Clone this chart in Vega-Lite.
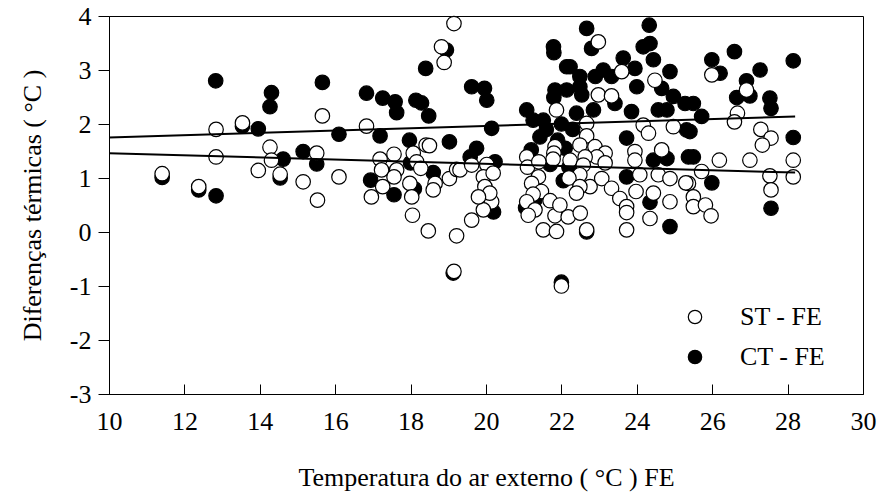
{
  "$schema": "https://vega.github.io/schema/vega-lite/v6.json",
  "width": 754,
  "height": 378,
  "autosize": {"type": "none"},
  "padding": {"left": 109, "top": 16, "right": 15, "bottom": 101},
  "background": "white",
  "config": {
    "view": {"stroke": "black", "strokeWidth": 1},
    "font": "Liberation Serif, Times New Roman, serif",
    "text": {"font": "Liberation Serif, Times New Roman, serif"},
    "axis": {
      "grid": false,
      "domainColor": "black",
      "tickColor": "black",
      "labelColor": "black",
      "titleColor": "black",
      "labelFont": "Liberation Serif, Times New Roman, serif",
      "titleFont": "Liberation Serif, Times New Roman, serif",
      "labelFontSize": 26,
      "titleFontSize": 26,
      "titleFontWeight": "normal"
    },
    "legend": {
      "labelFont": "Liberation Serif, Times New Roman, serif"
    }
  },
  "layer": [
    {
      "data": {
        "values": [
          {"t": 11.41, "d": 1.01, "serie": "CT - FE"},
          {"t": 12.38, "d": 0.78, "serie": "CT - FE"},
          {"t": 12.83, "d": 2.80, "serie": "CT - FE"},
          {"t": 12.84, "d": 0.67, "serie": "CT - FE"},
          {"t": 13.54, "d": 1.96, "serie": "CT - FE"},
          {"t": 13.96, "d": 1.91, "serie": "CT - FE"},
          {"t": 14.31, "d": 2.58, "serie": "CT - FE"},
          {"t": 14.27, "d": 2.32, "serie": "CT - FE"},
          {"t": 14.62, "d": 1.35, "serie": "CT - FE"},
          {"t": 14.54, "d": 1.00, "serie": "CT - FE"},
          {"t": 15.15, "d": 1.49, "serie": "CT - FE"},
          {"t": 15.66, "d": 2.77, "serie": "CT - FE"},
          {"t": 15.51, "d": 1.26, "serie": "CT - FE"},
          {"t": 16.10, "d": 1.81, "serie": "CT - FE"},
          {"t": 16.83, "d": 2.57, "serie": "CT - FE"},
          {"t": 17.26, "d": 2.48, "serie": "CT - FE"},
          {"t": 17.59, "d": 2.41, "serie": "CT - FE"},
          {"t": 17.63, "d": 2.21, "serie": "CT - FE"},
          {"t": 18.14, "d": 2.44, "serie": "CT - FE"},
          {"t": 18.29, "d": 2.39, "serie": "CT - FE"},
          {"t": 18.48, "d": 2.15, "serie": "CT - FE"},
          {"t": 18.40, "d": 3.03, "serie": "CT - FE"},
          {"t": 18.95, "d": 3.37, "serie": "CT - FE"},
          {"t": 17.19, "d": 1.78, "serie": "CT - FE"},
          {"t": 17.97, "d": 1.70, "serie": "CT - FE"},
          {"t": 19.03, "d": 1.67, "serie": "CT - FE"},
          {"t": 18.00, "d": 1.28, "serie": "CT - FE"},
          {"t": 16.94, "d": 0.96, "serie": "CT - FE"},
          {"t": 17.56, "d": 0.69, "serie": "CT - FE"},
          {"t": 18.10, "d": 0.80, "serie": "CT - FE"},
          {"t": 18.60, "d": 1.10, "serie": "CT - FE"},
          {"t": 19.13, "d": -0.76, "serie": "CT - FE"},
          {"t": 19.62, "d": 2.69, "serie": "CT - FE"},
          {"t": 19.96, "d": 2.66, "serie": "CT - FE"},
          {"t": 20.02, "d": 2.44, "serie": "CT - FE"},
          {"t": 20.15, "d": 1.92, "serie": "CT - FE"},
          {"t": 19.75, "d": 1.55, "serie": "CT - FE"},
          {"t": 19.58, "d": 1.39, "serie": "CT - FE"},
          {"t": 20.24, "d": 1.30, "serie": "CT - FE"},
          {"t": 20.20, "d": 0.37, "serie": "CT - FE"},
          {"t": 21.79, "d": 3.43, "serie": "CT - FE"},
          {"t": 21.80, "d": 3.32, "serie": "CT - FE"},
          {"t": 22.14, "d": 3.06, "serie": "CT - FE"},
          {"t": 21.83, "d": 2.63, "serie": "CT - FE"},
          {"t": 21.80, "d": 2.49, "serie": "CT - FE"},
          {"t": 21.08, "d": 2.26, "serie": "CT - FE"},
          {"t": 21.25, "d": 2.07, "serie": "CT - FE"},
          {"t": 21.52, "d": 2.07, "serie": "CT - FE"},
          {"t": 21.43, "d": 1.76, "serie": "CT - FE"},
          {"t": 21.20, "d": 1.52, "serie": "CT - FE"},
          {"t": 21.60, "d": 1.90, "serie": "CT - FE"},
          {"t": 21.90, "d": 1.70, "serie": "CT - FE"},
          {"t": 22.00, "d": 2.00, "serie": "CT - FE"},
          {"t": 22.10, "d": 1.55, "serie": "CT - FE"},
          {"t": 21.70, "d": 1.25, "serie": "CT - FE"},
          {"t": 22.20, "d": 1.20, "serie": "CT - FE"},
          {"t": 22.30, "d": 1.90, "serie": "CT - FE"},
          {"t": 22.40, "d": 2.20, "serie": "CT - FE"},
          {"t": 22.05, "d": 0.95, "serie": "CT - FE"},
          {"t": 21.30, "d": 0.60, "serie": "CT - FE"},
          {"t": 21.05, "d": 0.45, "serie": "CT - FE"},
          {"t": 22.00, "d": -0.93, "serie": "CT - FE"},
          {"t": 22.67, "d": 3.77, "serie": "CT - FE"},
          {"t": 24.33, "d": 3.83, "serie": "CT - FE"},
          {"t": 24.17, "d": 3.43, "serie": "CT - FE"},
          {"t": 24.35, "d": 3.49, "serie": "CT - FE"},
          {"t": 22.80, "d": 3.40, "serie": "CT - FE"},
          {"t": 22.23, "d": 3.06, "serie": "CT - FE"},
          {"t": 23.64, "d": 3.22, "serie": "CT - FE"},
          {"t": 23.11, "d": 3.00, "serie": "CT - FE"},
          {"t": 24.44, "d": 3.19, "serie": "CT - FE"},
          {"t": 24.88, "d": 2.97, "serie": "CT - FE"},
          {"t": 22.49, "d": 2.88, "serie": "CT - FE"},
          {"t": 22.90, "d": 2.88, "serie": "CT - FE"},
          {"t": 23.33, "d": 2.88, "serie": "CT - FE"},
          {"t": 23.95, "d": 3.03, "serie": "CT - FE"},
          {"t": 24.00, "d": 2.69, "serie": "CT - FE"},
          {"t": 22.14, "d": 2.63, "serie": "CT - FE"},
          {"t": 22.49, "d": 2.69, "serie": "CT - FE"},
          {"t": 22.54, "d": 2.54, "serie": "CT - FE"},
          {"t": 23.42, "d": 2.38, "serie": "CT - FE"},
          {"t": 24.66, "d": 2.66, "serie": "CT - FE"},
          {"t": 24.97, "d": 2.51, "serie": "CT - FE"},
          {"t": 22.85, "d": 2.26, "serie": "CT - FE"},
          {"t": 23.86, "d": 2.23, "serie": "CT - FE"},
          {"t": 24.57, "d": 2.26, "serie": "CT - FE"},
          {"t": 24.80, "d": 2.26, "serie": "CT - FE"},
          {"t": 25.32, "d": 1.89, "serie": "CT - FE"},
          {"t": 23.73, "d": 1.74, "serie": "CT - FE"},
          {"t": 24.44, "d": 1.33, "serie": "CT - FE"},
          {"t": 24.80, "d": 1.36, "serie": "CT - FE"},
          {"t": 25.37, "d": 1.39, "serie": "CT - FE"},
          {"t": 23.73, "d": 1.02, "serie": "CT - FE"},
          {"t": 24.35, "d": 0.55, "serie": "CT - FE"},
          {"t": 24.88, "d": 0.10, "serie": "CT - FE"},
          {"t": 22.67, "d": 0.00, "serie": "CT - FE"},
          {"t": 26.59, "d": 3.34, "serie": "CT - FE"},
          {"t": 25.99, "d": 3.19, "serie": "CT - FE"},
          {"t": 26.21, "d": 2.94, "serie": "CT - FE"},
          {"t": 27.27, "d": 3.00, "serie": "CT - FE"},
          {"t": 28.15, "d": 3.17, "serie": "CT - FE"},
          {"t": 26.91, "d": 2.80, "serie": "CT - FE"},
          {"t": 27.00, "d": 2.52, "serie": "CT - FE"},
          {"t": 26.65, "d": 2.49, "serie": "CT - FE"},
          {"t": 27.53, "d": 2.48, "serie": "CT - FE"},
          {"t": 27.56, "d": 2.29, "serie": "CT - FE"},
          {"t": 25.28, "d": 2.38, "serie": "CT - FE"},
          {"t": 25.50, "d": 2.38, "serie": "CT - FE"},
          {"t": 25.72, "d": 2.14, "serie": "CT - FE"},
          {"t": 25.41, "d": 1.86, "serie": "CT - FE"},
          {"t": 28.15, "d": 1.75, "serie": "CT - FE"},
          {"t": 25.50, "d": 1.39, "serie": "CT - FE"},
          {"t": 25.99, "d": 0.91, "serie": "CT - FE"},
          {"t": 27.56, "d": 0.44, "serie": "CT - FE"},
          {"t": 11.41, "d": 1.08, "serie": "ST - FE"},
          {"t": 12.38, "d": 0.84, "serie": "ST - FE"},
          {"t": 12.84, "d": 1.90, "serie": "ST - FE"},
          {"t": 12.84, "d": 1.39, "serie": "ST - FE"},
          {"t": 13.54, "d": 2.02, "serie": "ST - FE"},
          {"t": 14.27, "d": 1.57, "serie": "ST - FE"},
          {"t": 14.31, "d": 1.33, "serie": "ST - FE"},
          {"t": 13.96, "d": 1.14, "serie": "ST - FE"},
          {"t": 14.54, "d": 1.07, "serie": "ST - FE"},
          {"t": 15.15, "d": 0.93, "serie": "ST - FE"},
          {"t": 15.66, "d": 2.15, "serie": "ST - FE"},
          {"t": 15.51, "d": 1.46, "serie": "ST - FE"},
          {"t": 15.53, "d": 0.59, "serie": "ST - FE"},
          {"t": 16.10, "d": 1.02, "serie": "ST - FE"},
          {"t": 18.82, "d": 3.43, "serie": "ST - FE"},
          {"t": 18.89, "d": 3.14, "serie": "ST - FE"},
          {"t": 19.15, "d": 3.86, "serie": "ST - FE"},
          {"t": 16.83, "d": 1.96, "serie": "ST - FE"},
          {"t": 18.41, "d": 1.61, "serie": "ST - FE"},
          {"t": 18.50, "d": 1.60, "serie": "ST - FE"},
          {"t": 17.19, "d": 1.35, "serie": "ST - FE"},
          {"t": 17.56, "d": 1.44, "serie": "ST - FE"},
          {"t": 18.07, "d": 1.46, "serie": "ST - FE"},
          {"t": 18.16, "d": 1.30, "serie": "ST - FE"},
          {"t": 18.27, "d": 1.18, "serie": "ST - FE"},
          {"t": 17.23, "d": 1.15, "serie": "ST - FE"},
          {"t": 17.63, "d": 1.15, "serie": "ST - FE"},
          {"t": 17.56, "d": 1.02, "serie": "ST - FE"},
          {"t": 17.26, "d": 0.84, "serie": "ST - FE"},
          {"t": 16.96, "d": 0.65, "serie": "ST - FE"},
          {"t": 17.98, "d": 0.90, "serie": "ST - FE"},
          {"t": 18.03, "d": 0.65, "serie": "ST - FE"},
          {"t": 18.05, "d": 0.31, "serie": "ST - FE"},
          {"t": 18.65, "d": 0.90, "serie": "ST - FE"},
          {"t": 18.60, "d": 0.78, "serie": "ST - FE"},
          {"t": 18.47, "d": 0.02, "serie": "ST - FE"},
          {"t": 19.03, "d": 0.99, "serie": "ST - FE"},
          {"t": 19.22, "d": 1.16, "serie": "ST - FE"},
          {"t": 19.22, "d": -0.07, "serie": "ST - FE"},
          {"t": 19.15, "d": -0.73, "serie": "ST - FE"},
          {"t": 19.31, "d": 1.15, "serie": "ST - FE"},
          {"t": 19.62, "d": 1.24, "serie": "ST - FE"},
          {"t": 20.02, "d": 1.25, "serie": "ST - FE"},
          {"t": 19.93, "d": 1.02, "serie": "ST - FE"},
          {"t": 20.19, "d": 1.09, "serie": "ST - FE"},
          {"t": 19.97, "d": 0.84, "serie": "ST - FE"},
          {"t": 20.15, "d": 0.56, "serie": "ST - FE"},
          {"t": 19.93, "d": 0.41, "serie": "ST - FE"},
          {"t": 19.62, "d": 0.22, "serie": "ST - FE"},
          {"t": 20.10, "d": 0.72, "serie": "ST - FE"},
          {"t": 19.80, "d": 0.65, "serie": "ST - FE"},
          {"t": 21.87, "d": 2.26, "serie": "ST - FE"},
          {"t": 21.83, "d": 1.58, "serie": "ST - FE"},
          {"t": 21.80, "d": 1.46, "serie": "ST - FE"},
          {"t": 21.78, "d": 1.35, "serie": "ST - FE"},
          {"t": 21.08, "d": 1.39, "serie": "ST - FE"},
          {"t": 21.10, "d": 1.20, "serie": "ST - FE"},
          {"t": 21.40, "d": 1.30, "serie": "ST - FE"},
          {"t": 21.39, "d": 1.02, "serie": "ST - FE"},
          {"t": 21.21, "d": 0.90, "serie": "ST - FE"},
          {"t": 21.47, "d": 0.75, "serie": "ST - FE"},
          {"t": 21.25, "d": 0.70, "serie": "ST - FE"},
          {"t": 21.08, "d": 0.56, "serie": "ST - FE"},
          {"t": 21.70, "d": 0.58, "serie": "ST - FE"},
          {"t": 21.30, "d": 0.41, "serie": "ST - FE"},
          {"t": 21.12, "d": 0.31, "serie": "ST - FE"},
          {"t": 21.52, "d": 0.04, "serie": "ST - FE"},
          {"t": 21.83, "d": 0.30, "serie": "ST - FE"},
          {"t": 21.87, "d": 0.01, "serie": "ST - FE"},
          {"t": 22.00, "d": -1.00, "serie": "ST - FE"},
          {"t": 22.98, "d": 3.52, "serie": "ST - FE"},
          {"t": 23.60, "d": 2.97, "serie": "ST - FE"},
          {"t": 24.48, "d": 2.81, "serie": "ST - FE"},
          {"t": 22.98, "d": 2.54, "serie": "ST - FE"},
          {"t": 23.33, "d": 2.52, "serie": "ST - FE"},
          {"t": 22.67, "d": 2.01, "serie": "ST - FE"},
          {"t": 22.67, "d": 1.78, "serie": "ST - FE"},
          {"t": 24.17, "d": 1.98, "serie": "ST - FE"},
          {"t": 24.31, "d": 1.83, "serie": "ST - FE"},
          {"t": 24.97, "d": 1.95, "serie": "ST - FE"},
          {"t": 22.49, "d": 1.61, "serie": "ST - FE"},
          {"t": 22.89, "d": 1.58, "serie": "ST - FE"},
          {"t": 23.16, "d": 1.46, "serie": "ST - FE"},
          {"t": 22.94, "d": 1.39, "serie": "ST - FE"},
          {"t": 23.16, "d": 1.28, "serie": "ST - FE"},
          {"t": 22.63, "d": 1.39, "serie": "ST - FE"},
          {"t": 23.95, "d": 1.49, "serie": "ST - FE"},
          {"t": 23.95, "d": 1.33, "serie": "ST - FE"},
          {"t": 24.66, "d": 1.52, "serie": "ST - FE"},
          {"t": 22.23, "d": 1.33, "serie": "ST - FE"},
          {"t": 22.58, "d": 1.24, "serie": "ST - FE"},
          {"t": 22.49, "d": 1.06, "serie": "ST - FE"},
          {"t": 22.20, "d": 1.00, "serie": "ST - FE"},
          {"t": 22.76, "d": 0.84, "serie": "ST - FE"},
          {"t": 22.49, "d": 0.84, "serie": "ST - FE"},
          {"t": 23.07, "d": 0.99, "serie": "ST - FE"},
          {"t": 24.08, "d": 1.06, "serie": "ST - FE"},
          {"t": 24.57, "d": 1.06, "serie": "ST - FE"},
          {"t": 24.88, "d": 0.99, "serie": "ST - FE"},
          {"t": 25.37, "d": 0.90, "serie": "ST - FE"},
          {"t": 23.33, "d": 0.81, "serie": "ST - FE"},
          {"t": 23.98, "d": 0.75, "serie": "ST - FE"},
          {"t": 24.44, "d": 0.72, "serie": "ST - FE"},
          {"t": 23.55, "d": 0.62, "serie": "ST - FE"},
          {"t": 23.73, "d": 0.47, "serie": "ST - FE"},
          {"t": 23.73, "d": 0.36, "serie": "ST - FE"},
          {"t": 24.88, "d": 0.56, "serie": "ST - FE"},
          {"t": 24.35, "d": 0.25, "serie": "ST - FE"},
          {"t": 23.73, "d": 0.04, "serie": "ST - FE"},
          {"t": 22.67, "d": 0.04, "serie": "ST - FE"},
          {"t": 22.18, "d": 0.28, "serie": "ST - FE"},
          {"t": 22.50, "d": 0.35, "serie": "ST - FE"},
          {"t": 21.96, "d": 0.50, "serie": "ST - FE"},
          {"t": 22.40, "d": 0.72, "serie": "ST - FE"},
          {"t": 25.99, "d": 2.91, "serie": "ST - FE"},
          {"t": 26.91, "d": 2.63, "serie": "ST - FE"},
          {"t": 26.67, "d": 2.20, "serie": "ST - FE"},
          {"t": 26.59, "d": 2.04, "serie": "ST - FE"},
          {"t": 27.29, "d": 1.90, "serie": "ST - FE"},
          {"t": 27.56, "d": 1.74, "serie": "ST - FE"},
          {"t": 27.33, "d": 1.61, "serie": "ST - FE"},
          {"t": 26.19, "d": 1.33, "serie": "ST - FE"},
          {"t": 27.00, "d": 1.33, "serie": "ST - FE"},
          {"t": 28.15, "d": 1.33, "serie": "ST - FE"},
          {"t": 25.72, "d": 1.12, "serie": "ST - FE"},
          {"t": 25.30, "d": 0.91, "serie": "ST - FE"},
          {"t": 27.53, "d": 1.04, "serie": "ST - FE"},
          {"t": 28.15, "d": 1.02, "serie": "ST - FE"},
          {"t": 27.56, "d": 0.78, "serie": "ST - FE"},
          {"t": 25.50, "d": 0.65, "serie": "ST - FE"},
          {"t": 25.50, "d": 0.47, "serie": "ST - FE"},
          {"t": 25.82, "d": 0.50, "serie": "ST - FE"},
          {"t": 25.97, "d": 0.30, "serie": "ST - FE"}
        ]
      },
      "mark": {"type": "point", "shape": "circle", "filled": true, "stroke": "black", "strokeWidth": 1.2, "size": 210, "opacity": 1},
      "encoding": {
        "x": {
          "field": "t", "type": "quantitative",
          "scale": {"domain": [10, 30], "nice": false, "zero": false},
          "axis": {
            "title": "Temperatura do ar externo ( °C ) FE",
            "values": [10, 12, 14, 16, 18, 20, 22, 24, 26, 28, 30],
            "format": "d",
            "tickSize": -10,
            "labelPadding": 24,
            "titlePadding": 30,
            "labelFlush": false,
            "labelFont": "Liberation Serif, Times New Roman, serif",
            "titleFont": "Liberation Serif, Times New Roman, serif",
            "labelFontSize": 26,
            "titleFontSize": 26
          }
        },
        "y": {
          "field": "d", "type": "quantitative",
          "scale": {"domain": [-3, 4], "nice": false, "zero": false},
          "axis": {
            "title": "Diferenças térmicas ( °C )",
            "values": [-3, -2, -1, 0, 1, 2, 3, 4],
            "format": "d",
            "labelExpr": "datum.value < 0 ? '-' + abs(datum.value) : '' + datum.value",
            "tickSize": 11,
            "labelPadding": 7,
            "titlePadding": 24,
            "labelFlush": false,
            "labelFont": "Liberation Serif, Times New Roman, serif",
            "titleFont": "Liberation Serif, Times New Roman, serif",
            "labelFontSize": 26,
            "titleFontSize": 26
          }
        },
        "fill": {
          "field": "serie", "type": "nominal",
          "scale": {"domain": ["ST - FE", "CT - FE"], "range": ["white", "black"]},
          "legend": {
            "title": null,
            "orient": "none",
            "legendX": 573,
            "legendY": 288,
            "padding": 0,
            "symbolType": "circle",
            "symbolSize": 180,
            "symbolStrokeColor": "black",
            "symbolStrokeWidth": 1.2,
            "symbolOpacity": 1,
            "labelFont": "Liberation Serif, Times New Roman, serif",
            "labelFontSize": 26,
            "labelColor": "black",
            "labelOffset": 32,
            "rowPadding": 14
          }
        }
      }
    },
    {
      "data": {
        "values": [
          {"t": 10, "d": 1.75, "reta": "CT"},
          {"t": 28.2, "d": 2.14, "reta": "CT"},
          {"t": 10, "d": 1.46, "reta": "ST"},
          {"t": 28.2, "d": 1.10, "reta": "ST"}
        ]
      },
      "mark": {"type": "line", "color": "black", "strokeWidth": 2},
      "encoding": {
        "x": {"field": "t", "type": "quantitative"},
        "y": {"field": "d", "type": "quantitative"},
        "detail": {"field": "reta", "type": "nominal"}
      }
    }
  ]
}
